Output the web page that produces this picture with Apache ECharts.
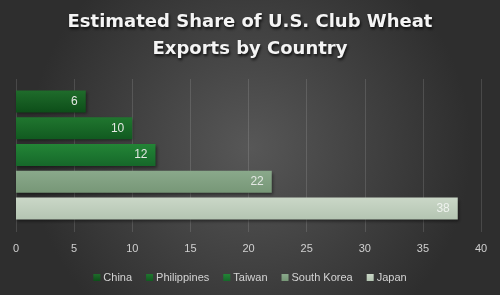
<!DOCTYPE html>
<html>
<head>
<meta charset="utf-8">
<script src="https://cdn.jsdelivr.net/npm/echarts@6/dist/echarts.min.js"></script>
<style>
html,body{margin:0;padding:0;background:#3a3a3a;}
#c{width:500px;height:295px;}
</style>
</head>
<body>
<div id="c"></div>
<script>
const titleText = "Estimated Share of U.S. Club Wheat\nExports by Country";
const countries = ["China", "Philippines", "Taiwan", "South Korea", "Japan"];
const shares = [6, 10, 12, 22, 38];
const xTicks = { min: 0, max: 40, interval: 5 };
const colorsTop = ["#1f6c2b", "#20762f", "#238536", "#8aa98b", "#cad7c7"];
const colorsBottom = ["#0d4e19", "#115a20", "#16682a", "#779777", "#b4c5b2"];
const labelColors = ["#e4e8e4", "#e4e8e4", "#e4e8e4", "#e4e8e4", "#eef2ee"];

const chart = echarts.init(document.getElementById('c'), null, {renderer: 'canvas'});
const series = countries.map((name, i) => ({
  name: name,
  type: 'bar',
  xAxisIndex: 0,
  yAxisIndex: 0,
  data: [shares[i]],
  barWidth: 22,
  barGap: '21.6%',
  itemStyle: {
    color: new echarts.graphic.LinearGradient(0, 0, 0, 1, [
      {offset: 0, color: colorsTop[i]},
      {offset: 1, color: colorsBottom[i]}
    ]),
    shadowColor: 'rgba(0,0,0,0.45)',
    shadowBlur: 3,
    shadowOffsetX: 1,
    shadowOffsetY: 2
  },
  label: {
    show: true,
    position: 'insideRight',
    distance: 8,
    color: labelColors[i],
    fontSize: 12,
    fontFamily: 'Liberation Sans'
  }
}));

chart.setOption({
  animation: false,
  backgroundColor: {
    type: 'radial', x: 0.5, y: 0.5, r: 0.75,
    colorStops: [{offset: 0, color: '#575757'}, {offset: 1, color: '#2e2e2e'}]
  },
  title: {
    text: titleText,
    left: 'center',
    top: 4,
    textStyle: {
      color: '#f4f4f4',
      fontSize: 18,
      fontWeight: 'bold',
      fontFamily: 'DejaVu Sans',
      lineHeight: 27,
      textShadowColor: 'rgba(0,0,0,0.8)',
      textShadowBlur: 3,
      textShadowOffsetX: 1,
      textShadowOffsetY: 2
    }
  },
  legend: {
    data: countries,
    bottom: 7,
    left: 'center',
    itemWidth: 7,
    itemHeight: 7,
    itemGap: 14,
    icon: 'rect',
    textStyle: {color: '#d4d4d4', fontSize: 11, fontFamily: 'Liberation Sans', padding: [0, 0, 0, -2]}
  },
  grid: [
    {left: 16, right: 19, top: 88, bottom: 73, containLabel: false},
    {left: 16, right: 19, top: 79, bottom: 63, containLabel: false}
  ],
  xAxis: [
    {type: 'value', gridIndex: 0, min: xTicks.min, max: xTicks.max, interval: xTicks.interval, show: false},
    {type: 'value', gridIndex: 1, min: xTicks.min, max: xTicks.max, interval: xTicks.interval,
     axisLine: {show: false}, axisTick: {show: false},
     axisLabel: {color: '#d0d0d0', fontSize: 11, margin: 11, fontFamily: 'Liberation Sans'},
     splitLine: {show: true, lineStyle: {color: 'rgba(255,255,255,0.13)', width: 1}}}
  ],
  yAxis: [
    {type: 'category', gridIndex: 0, data: [''], inverse: true, show: false},
    {type: 'value', gridIndex: 1, show: false, min: 0, max: 1}
  ],
  series: series
});
</script>
</body>
</html>
